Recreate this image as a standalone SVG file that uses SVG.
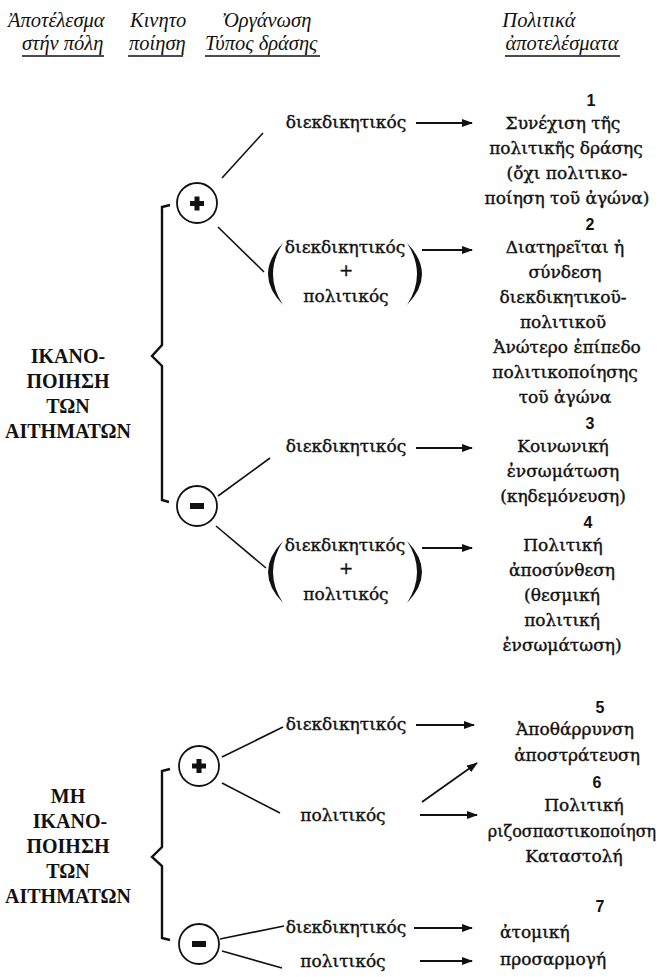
<svg xmlns="http://www.w3.org/2000/svg" width="664" height="977" viewBox="0 0 664 977">
<defs>
<marker id="ah" markerUnits="userSpaceOnUse" markerWidth="11" markerHeight="8" refX="10" refY="4" orient="auto">
<path d="M0,0 L11,4 L0,8 Z" fill="#111"/>
</marker>
<style>
.h{font-family:"Liberation Serif","DejaVu Serif",serif;font-style:italic;font-size:20.5px;fill:#111}
.t{font-family:"DejaVu Serif","Liberation Serif",serif;font-size:17px;fill:#111;text-anchor:middle;stroke:#111;stroke-width:0.4}
.tl{font-family:"DejaVu Serif","Liberation Serif",serif;font-size:17px;fill:#111;stroke:#111;stroke-width:0.4}
.lab{font-family:"Liberation Serif","DejaVu Serif",serif;font-weight:bold;font-size:20px;fill:#111;text-anchor:middle}
.num{font-family:"Liberation Sans","DejaVu Sans",sans-serif;font-weight:bold;font-size:16px;fill:#111;text-anchor:middle}
.ln{stroke:#111;stroke-width:1.6;fill:none}
.ul{stroke:#111;stroke-width:1.3}
.arr{stroke:#111;stroke-width:1.8;fill:none;marker-end:url(#ah)}
.br{stroke:#111;stroke-width:2.4;fill:none;stroke-linejoin:miter}
.circ{stroke:#111;stroke-width:1.8;fill:#fff}
.par{fill:#111}
</style>
</defs>
<rect width="664" height="977" fill="#fff"/>

<g id="header">
<text class="h" x="8" y="27">Ἀποτέλεσμα</text>
<text class="h" x="22" y="50">στήν πόλη</text>
<line class="ul" x1="22" y1="56" x2="104" y2="56"/>
<text class="h" x="130" y="27">Κινητο</text>
<text class="h" x="129" y="50">ποίηση</text>
<line class="ul" x1="128" y1="56" x2="183" y2="56"/>
<text class="h" x="222" y="27">Ὀργάνωση</text>
<text class="h" x="205" y="50">Τύπος δράσης</text>
<line class="ul" x1="205" y1="56" x2="320" y2="56"/>
<text class="h" x="539" y="27" text-anchor="middle">Πολιτικά</text>
<text class="h" x="562" y="50" text-anchor="middle">ἀποτελέσματα</text>
<line class="ul" x1="505" y1="56" x2="620" y2="56"/>
</g>

<g id="sat-label">
<text class="lab" x="68" y="363">ΙΚΑΝΟ-</text>
<text class="lab" x="68" y="388">ΠΟΙΗΣΗ</text>
<text class="lab" x="68" y="413">ΤΩΝ</text>
<text class="lab" x="68" y="438">ΑΙΤΗΜΑΤΩΝ</text>
</g>
<g id="sat-brace">
<path class="br" d="M170,205 L162,207 L162,345 L152,356 L162,366 L162,500 L169,502"/>
</g>
<g id="sat-plus">
<circle class="circ" cx="197" cy="203" r="20"/>
<rect x="190" y="201" width="14" height="5" fill="#111"/>
<rect x="194.5" y="196.5" width="5" height="14" fill="#111"/>
</g>
<g id="sat-minus">
<circle class="circ" cx="197" cy="506" r="20"/>
<rect x="190" y="503" width="14" height="6" fill="#111"/>
</g>

<g id="n1-type">
<text class="t" x="346" y="128">διεκδικητικός</text>
</g>
<g id="n2-type">
<path class="par" d="M283,243 Q253,274 283,305 Q263,274 283,243 Z"/>
<path class="par" d="M407,243 Q437,274 407,305 Q427,274 407,243 Z"/>
<text class="t" x="345" y="253">διεκδικητικός</text>
<text class="t" x="346" y="276">+</text>
<text class="t" x="346" y="302">πολιτικός</text>
</g>
<g id="n3-type">
<text class="t" x="346" y="452">διεκδικητικός</text>
</g>
<g id="n4-type">
<path class="par" d="M283,541 Q253,572 283,603 Q263,572 283,541 Z"/>
<path class="par" d="M407,541 Q437,572 407,603 Q427,572 407,541 Z"/>
<text class="t" x="345" y="551">διεκδικητικός</text>
<text class="t" x="346" y="574">+</text>
<text class="t" x="346" y="600">πολιτικός</text>
</g>

<g id="r1">
<text class="num" x="591" y="106">1</text>
<text class="t" x="563" y="129">Συνέχιση τῆς</text>
<text class="t" x="566" y="154">πολιτικῆς δράσης</text>
<text class="t" x="567" y="179">(ὄχι πολιτικο-</text>
<text class="t" x="567" y="204">ποίηση τοῦ ἀγώνα)</text>
</g>
<g id="r2">
<text class="num" x="590" y="230">2</text>
<text class="t" x="565" y="253">Διατηρεῖται ἡ</text>
<text class="t" x="565" y="278">σύνδεση</text>
<text class="t" x="563" y="303">διεκδικητικοῦ-</text>
<text class="t" x="563" y="328">πολιτικοῦ</text>
<text class="t" x="567" y="353">Ἀνώτερο ἐπίπεδο</text>
<text class="t" x="565" y="378">πολιτικοποίησης</text>
<text class="t" x="565" y="403">τοῦ ἀγώνα</text>
</g>
<g id="r3">
<text class="num" x="590" y="429">3</text>
<text class="t" x="563" y="452">Κοινωνική</text>
<text class="t" x="563" y="477">ἐνσωμάτωση</text>
<text class="t" x="563" y="502">(κηδεμόνευση)</text>
</g>
<g id="r4">
<text class="num" x="588" y="528">4</text>
<text class="t" x="563" y="551">Πολιτική</text>
<text class="t" x="562" y="576">ἀποσύνθεση</text>
<text class="t" x="562" y="601">(θεσμική</text>
<text class="t" x="562" y="626">πολιτική</text>
<text class="t" x="562" y="651">ἐνσωμάτωση)</text>
</g>

<g id="unsat-label">
<text class="lab" x="68" y="803">ΜΗ</text>
<text class="lab" x="70" y="828">ΙΚΑΝΟ-</text>
<text class="lab" x="68" y="853">ΠΟΙΗΣΗ</text>
<text class="lab" x="68" y="878">ΤΩΝ</text>
<text class="lab" x="68" y="903">ΑΙΤΗΜΑΤΩΝ</text>
</g>
<g id="unsat-brace">
<path class="br" d="M170,769 L162,771 L162,847 L152,857 L162,866 L162,938 L170,940"/>
</g>
<g id="unsat-plus">
<circle class="circ" cx="199" cy="766" r="20"/>
<rect x="192" y="763.5" width="14" height="5" fill="#111"/>
<rect x="196.5" y="759" width="5" height="14" fill="#111"/>
</g>
<g id="unsat-minus">
<circle class="circ" cx="199" cy="944" r="20"/>
<rect x="192" y="941" width="14" height="6" fill="#111"/>
</g>

<g id="n5-type">
<text class="t" x="346" y="730">διεκδικητικός</text>
</g>
<g id="n6-type">
<text class="t" x="343" y="821">πολιτικός</text>
</g>
<g id="n7-type">
<text class="t" x="346" y="933">διεκδικητικός</text>
</g>
<g id="n8-type">
<text class="t" x="343" y="967">πολιτικός</text>
</g>

<g id="r5">
<text class="num" x="600" y="713">5</text>
<text class="t" x="575" y="735">Ἀποθάρρυνση</text>
<text class="t" x="577" y="761">ἀποστράτευση</text>
</g>
<g id="r6">
<text class="num" x="597" y="788">6</text>
<text class="t" x="584" y="811">Πολιτική</text>
<text class="t" x="572" y="837" style="font-size:16px">ριζοσπαστικοποίηση</text>
<text class="t" x="574" y="862">Καταστολή</text>
</g>
<g id="r7">
<text class="num" x="600" y="912">7</text>
<text class="tl" x="500" y="938">ἀτομική</text>
<text class="tl" x="500" y="965">προσαρμογή</text>
</g>

<g id="connectors">
<line class="ln" x1="222" y1="178" x2="263" y2="133"/>
<line class="ln" x1="218" y1="227" x2="264" y2="272"/>
<line class="ln" x1="218" y1="496" x2="270" y2="458"/>
<line class="ln" x1="216" y1="526" x2="266" y2="568"/>
<line class="arr" x1="416" y1="123" x2="472" y2="123"/>
<line class="arr" x1="422" y1="250" x2="472" y2="250"/>
<line class="arr" x1="416" y1="448" x2="472" y2="448"/>
<line class="arr" x1="422" y1="548" x2="472" y2="548"/>
<line class="ln" x1="222" y1="757" x2="283" y2="727"/>
<line class="ln" x1="222" y1="783" x2="280" y2="813"/>
<line class="ln" x1="220" y1="939" x2="284" y2="926"/>
<line class="ln" x1="222" y1="951" x2="282" y2="968"/>
<line class="arr" x1="416" y1="725" x2="474" y2="725"/>
<line class="arr" x1="422" y1="802" x2="477" y2="763"/>
<line class="arr" x1="420" y1="815" x2="477" y2="815"/>
<line class="arr" x1="414" y1="928" x2="472" y2="928"/>
<line class="arr" x1="420" y1="961" x2="472" y2="961"/>
</g>
</svg>
